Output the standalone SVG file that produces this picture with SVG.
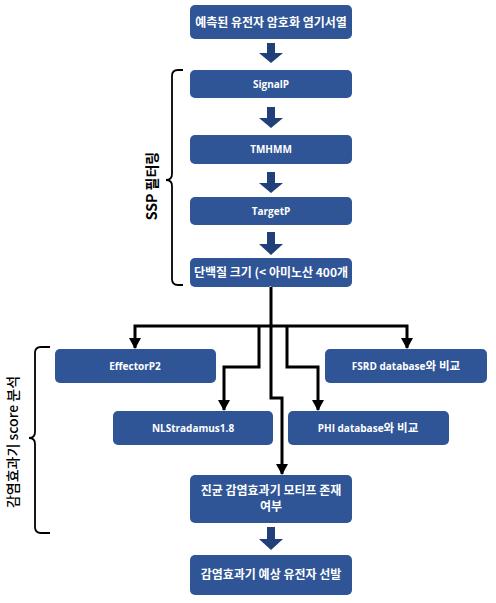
<svg xmlns="http://www.w3.org/2000/svg" width="496" height="603" viewBox="0 0 496 603">
<defs>
<style>
.box{fill:#2F5597;}
.t{fill:#ffffff;font-family:"Noto Sans CJK KR","Open Sans",sans-serif;font-weight:bold;font-size:12px;text-anchor:middle;}
.tl{fill:#ffffff;font-family:"Open Sans","Noto Sans CJK KR",sans-serif;font-weight:bold;font-size:10px;text-anchor:middle;}
.k{font-size:11.5px;}
.blk{fill:#213F78;}
.con{fill:none;stroke:#000;stroke-width:3;}
.br{fill:none;stroke:#000;stroke-width:1.8;}
.lab{fill:#000;font-family:"Noto Sans CJK KR","Open Sans",sans-serif;font-size:14px;text-anchor:middle;}
</style>
<marker id="ah" markerUnits="userSpaceOnUse" markerWidth="11" markerHeight="12" refX="10" refY="6" orient="auto" viewBox="0 0 11 12">
<path d="M0,0 L11,6 L0,12 Z" fill="#000"/>
</marker>
</defs>

<g id="n1"><rect class="box" x="190" y="5" width="162" height="34" rx="5"/><text class="t" x="271" y="26.5">예측된 유전자 암호화 염기서열</text></g>
<g id="n2"><rect class="box" x="190" y="70" width="162" height="28" rx="5"/><text class="tl" x="271" y="88">SignalP</text></g>
<g id="n3"><rect class="box" x="190" y="135" width="162" height="29" rx="5"/><text class="tl" x="271" y="153">TMHMM</text></g>
<g id="n4"><rect class="box" x="190" y="197" width="162" height="28" rx="5"/><text class="tl" x="271" y="215">TargetP</text></g>
<g id="n5"><rect class="box" x="190" y="258" width="162" height="29" rx="5"/><text class="t" x="271" y="277">단백질 크기 (&lt; 아미노산 400개</text><text class="t" x="271" y="296">)</text></g>
<g id="n6"><rect class="box" x="55" y="349" width="161" height="34" rx="5"/><text class="tl" x="135" y="370">EffectorP2</text></g>
<g id="n7"><rect class="box" x="325" y="349" width="162" height="34" rx="5"/><text class="tl" x="406" y="370">FSRD database<tspan class="k">와 비교</tspan></text></g>
<g id="n8"><rect class="box" x="113" y="411" width="160" height="34" rx="5"/><text class="tl" x="193" y="432">NLStradamus1.8</text></g>
<g id="n9"><rect class="box" x="288" y="411" width="161" height="34" rx="5"/><text class="tl" x="368" y="432">PHI database<tspan class="k">와 비교</tspan></text></g>
<g id="n10"><rect class="box" x="190" y="475" width="162" height="48" rx="5"/><text class="t" x="271" y="495">진균 감염효과기 모티프 존재</text><text class="t" x="271" y="511">여부</text></g>
<g id="n11"><rect class="box" x="190" y="555" width="162" height="40" rx="5"/><text class="t" x="271" y="579">감염효과기 예상 유전자 선발</text></g>

<g id="connectors">
<path class="blk" d="M267,43 H275 V53 H283 L271,63 L259,53 H267 Z"/>
<path class="blk" d="M267,107 H275 V118 H283 L271,128 L259,118 H267 Z"/>
<path class="blk" d="M267,172 H275 V183 H283 L271,193 L259,183 H267 Z"/>
<path class="blk" d="M267,232 H275 V244 H283 L271,255 L259,244 H267 Z"/>
<path class="blk" d="M267,527 H275 V539 H283 L271,550 L259,539 H267 Z"/>
<path class="con" d="M271,287 V398 H282 V474" marker-end="url(#ah)"/>
<path class="con" d="M272,326 H135 V348" marker-end="url(#ah)"/>
<path class="con" d="M270,326 H407 V348" marker-end="url(#ah)"/>
<path class="con" d="M259,326 V367 H224 V410" marker-end="url(#ah)"/>
<path class="con" d="M287,326 V367 H318 V410" marker-end="url(#ah)"/>
</g>

<g id="bracket-ssp">
<path class="br" d="M183,70 H178 Q172,70 172,76 V174 Q172,180 166,180 Q172,180 172,186 V279 Q172,285 178,285 H183"/>
<text class="lab" font-weight="bold" transform="translate(157,186) rotate(-90)">SSP 필터링</text>
</g>
<g id="bracket-score">
<path class="br" d="M50,347 H41 Q35,347 35,353 V432 Q35,438 29,438 Q35,438 35,444 V527 Q35,533 41,533 H50"/>
<text class="lab" font-weight="500" transform="translate(18,442) rotate(-90)">감염효과기 score 분석</text>
</g>
</svg>
